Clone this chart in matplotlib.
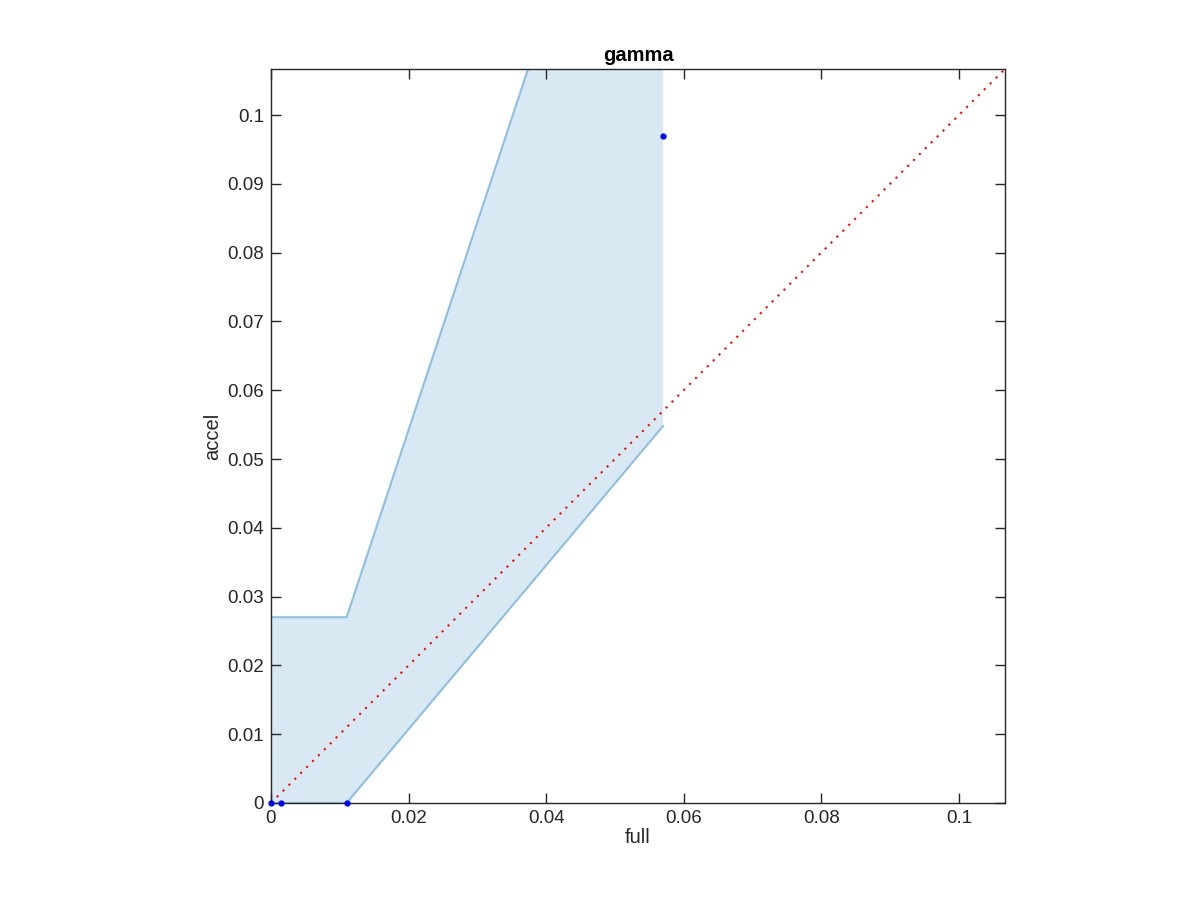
import numpy as np
import matplotlib
matplotlib.use("Agg")
import matplotlib.pyplot as plt

# 데이터
full = [0.0, 0.0015, 0.011, 0.057]
accel = [0.0, 0.0, 0.0, 0.097]
upper = [0.027, 0.027, 0.027, 0.166]
lower = [0.0, 0.0, 0.0, 0.0548]
lim = 0.1067
xticks = [0, 0.02, 0.04, 0.06, 0.08, 0.1]
yticks = [0, 0.01, 0.02, 0.03, 0.04, 0.05, 0.06, 0.07, 0.08, 0.09, 0.1]

plt.rcParams['font.family'] = ['Liberation Sans', 'DejaVu Sans']

fig = plt.figure(figsize=(12, 9), dpi=100)
ax = fig.add_axes([0.2258, 0.1078, 0.6117, 0.8156])

# 신뢰 구간
ax.fill_between(full, lower, upper, facecolor='#d9e9f4', edgecolor='none', zorder=1)
ax.plot(full, upper, color='#8dbfe0', lw=1.5, zorder=2)
ax.plot(full, lower, color='#8dbfe0', lw=1.5, zorder=2)

# 대각선
ax.plot([0, lim], [0, lim], color='red', ls=(0, (1, 3)), lw=1.5, zorder=3)

# 점
ax.plot(full, accel, 'o', color='blue', ms=3.5, zorder=4, clip_on=False)

ax.set_xlim(0, lim)
ax.set_ylim(0, lim)
ax.set_xticks(xticks)
ax.set_yticks(yticks)
ax.set_xticklabels([f"{v:g}" for v in xticks])
ax.set_yticklabels([f"{v:g}" for v in yticks])
ax.tick_params(direction='in', top=True, right=True, length=7, width=1,
               labelsize=13.5, colors='#262626', pad=5)
for s in ax.spines.values():
    s.set_color('#262626')
    s.set_linewidth(1)

ax.set_title("gamma", fontsize=14.5, fontweight='bold', pad=6)
ax.set_xlabel("full", fontsize=14.5, color='#262626', labelpad=1)
ax.set_ylabel("accel", fontsize=14.5, color='#262626', labelpad=4)

fig.savefig("out.png", dpi=100)
